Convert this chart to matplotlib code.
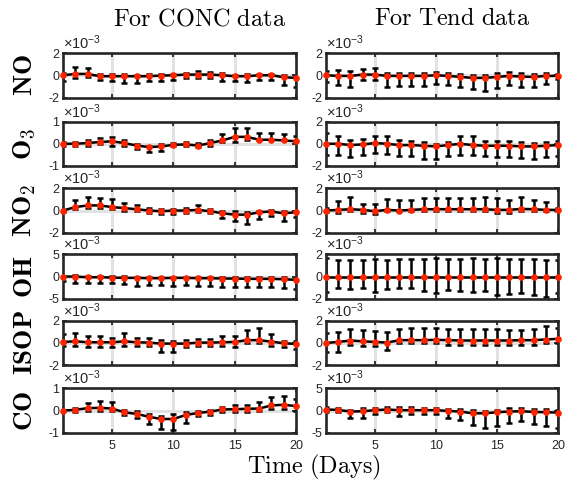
import numpy as np
import matplotlib
matplotlib.use("Agg")
import matplotlib.pyplot as plt

plt.rcParams['font.family'] = ['Liberation Sans', 'DejaVu Sans']
plt.rcParams['axes.unicode_minus'] = False
plt.rcParams['mathtext.fontset'] = 'custom'
plt.rcParams['mathtext.rm'] = 'Liberation Sans'
plt.rcParams['mathtext.it'] = 'Liberation Sans:italic'
plt.rcParams['mathtext.bf'] = 'Liberation Sans:bold'

days = np.arange(1, 21)

# all values below are in units of 1e-3
# ---- CONC ----
no_conc_mean = [0, 0.12, 0.12, -0.09, -0.09, -0.09, -0.09, -0.09, -0.03, 0, 0.06, 0.06, 0.06, 0, -0.09, -0.09, 0, 0, -0.18, -0.24]
no_conc_hi = [0.21, 0.73, 0.67, 0.12, 0.12, 0.12, 0.06, 0.12, 0.12, 0.12, 0.21, 0.36, 0.30, 0.21, 0.06, 0.12, 0.12, 0.12, 0, -0.09]
no_conc_lo = [-0.55, -0.24, -0.18, -0.39, -0.55, -0.70, -0.70, -0.55, -0.55, -0.39, -0.24, -0.24, -0.24, -0.48, -0.55, -0.61, -0.39, -0.39, -0.85, -1.09]

o3_conc_mean = [0, 0, 0.03, 0.08, 0.11, 0.03, -0.08, -0.15, -0.12, -0.05, -0.03, -0.08, 0.03, 0.15, 0.31, 0.31, 0.18, 0.18, 0.15, 0.11]
o3_conc_hi = [0.08, 0.08, 0.15, 0.28, 0.31, 0.15, 0, -0.08, -0.03, 0.03, 0.08, 0.03, 0.15, 0.46, 0.69, 0.69, 0.49, 0.49, 0.43, 0.34]
o3_conc_lo = [-0.08, -0.08, -0.08, -0.03, -0.08, -0.08, -0.23, -0.38, -0.34, -0.12, -0.12, -0.15, -0.08, 0.08, 0.08, 0.15, 0.15, 0.15, 0.15, 0.08]

no2_conc_mean = [0, 0.31, 0.46, 0.46, 0.31, 0.22, 0.12, 0, -0.06, 0, 0, 0.06, -0.06, -0.25, -0.37, -0.37, -0.15, -0.09, -0.25, -0.15]
no2_conc_hi = [0.06, 0.98, 1.23, 1.17, 1.08, 0.68, 0.46, 0.22, 0.15, 0.15, 0.22, 0.46, 0.15, -0.06, -0.06, -0.15, 0, 0.06, 0, 0]
no2_conc_lo = [-0.15, 0.15, 0.25, 0.25, 0.15, 0, 0, -0.22, -0.31, -0.31, -0.22, -0.15, -0.25, -0.68, -0.92, -1.17, -0.77, -0.46, -0.92, -0.62]

oh_conc_mean = [0, 0, -0.15, -0.15, -0.22, -0.3, -0.3, -0.37, -0.37, -0.3, -0.3, -0.37, -0.37, -0.45, -0.45, -0.52, -0.52, -0.52, -0.6, -0.75]
oh_conc_hi = [0.15, 0.37, 0.22, 0.22, 0.15, 0.15, 0, 0, 0, 0, 0, 0, 0, 0, 0, 0, 0, 0, -0.15, -0.37]
oh_conc_lo = [-0.9, -1.34, -1.49, -1.49, -1.34, -1.64, -2.09, -1.87, -1.87, -2.09, -1.87, -2.09, -2.09, -2.24, -2.39, -2.39, -2.39, -2.39, -2.61, -2.84]

isop_conc_mean = [0.09, 0.15, 0.06, 0.06, 0.06, 0.15, 0.06, 0.03, -0.06, -0.06, -0.06, 0.03, 0.03, 0.06, 0.09, 0.25, 0.25, 0.12, -0.03, -0.09]
isop_conc_hi = [0.77, 0.86, 0.62, 0.62, 0.46, 0.86, 0.46, 0.46, 0.25, 0.15, 0.25, 0.37, 0.37, 0.62, 0.62, 1.17, 1.38, 0.77, 0.15, 0.15]
isop_conc_lo = [-0.31, -0.25, -0.37, -0.37, -0.37, -0.25, -0.25, -0.25, -0.77, -0.77, -0.37, -0.25, -0.25, -0.31, -0.37, 0, 0, -0.25, -0.37, -0.55]

co_conc_mean = [0, 0.03, 0.11, 0.12, 0.09, -0.08, -0.15, -0.28, -0.38, -0.38, -0.2, -0.11, -0.05, 0.05, 0.06, 0.08, 0.09, 0.23, 0.26, 0.2]
co_conc_hi = [0.03, 0.12, 0.34, 0.43, 0.38, 0.03, 0, -0.15, -0.23, -0.15, -0.08, 0, 0.03, 0.15, 0.23, 0.23, 0.38, 0.62, 0.65, 0.54]
co_conc_lo = [-0.03, -0.08, 0, 0, 0, -0.18, -0.34, -0.62, -0.85, -0.89, -0.54, -0.23, -0.18, -0.08, -0.08, -0.08, 0, 0.08, 0.08, 0]

# ---- Tend ----
no_tend_mean = [0, -0.06, -0.06, 0.06, 0.06, -0.06, -0.06, -0.06, -0.06, 0, -0.06, -0.15, -0.24, -0.24, -0.15, -0.06, -0.12, -0.15, -0.06, -0.06]
no_tend_hi = [0.36, 0.45, 0.36, 0.55, 0.61, 0.24, 0.24, 0.24, 0.24, 0.3, 0.24, 0.15, 0.06, 0.06, 0.24, 0.3, 0.24, 0.15, 0.24, 0.15]
no_tend_lo = [-0.61, -0.85, -1.06, -0.45, -0.45, -1.06, -0.97, -0.97, -0.97, -0.76, -0.85, -1.06, -1.27, -1.45, -1.15, -0.85, -1.06, -1.06, -0.76, -0.3]

o3_tend_mean = [0, 0, -0.12, -0.06, 0.06, 0, -0.12, -0.12, -0.18, -0.24, -0.12, 0, -0.12, -0.18, -0.18, -0.18, -0.24, -0.24, -0.18, -0.12]
o3_tend_hi = [0.97, 0.73, 0.3, 0.42, 0.73, 0.73, 0.36, 0.21, 0.12, 0, 0.12, 0.67, 0.67, 0.21, 0.21, 0.21, 0.12, 0.06, 0.12, 0.21]
o3_tend_lo = [-1.0, -1.0, -1.21, -1.0, -0.85, -0.91, -1.09, -1.09, -1.39, -1.39, -1.09, -1.0, -1.0, -1.09, -1.15, -1.21, -1.3, -1.39, -1.15, -1.09]

no2_tend_mean = [0, 0.06, 0.12, 0.06, -0.06, 0.06, 0, 0.06, 0.12, 0.12, 0.12, 0.12, 0.12, 0.12, 0.06, 0.06, 0.15, 0.12, 0.06, 0.06]
no2_tend_hi = [0.25, 0.86, 1.23, 0.62, 0.62, 1.02, 0.92, 0.92, 1.17, 1.11, 1.11, 1.17, 1.17, 1.23, 1.17, 0.92, 1.23, 0.92, 0.8, 0.25]
no2_tend_lo = [-0.12, -0.22, -0.06, -0.22, -0.31, -0.06, -0.06, -0.06, -0.06, -0.06, -0.06, -0.06, -0.06, -0.06, -0.22, -0.22, -0.06, -0.06, -0.06, -0.06]

oh_tend_mean = [0] * 20
oh_tend_hi = [1.65, 1.45, 1.52, 1.52, 1.58, 1.52, 1.58, 1.58, 1.58, 1.65, 1.58, 1.58, 1.65, 1.58, 1.65, 1.58, 1.58, 1.58, 1.45, 1.52]
oh_tend_lo = [-1.36, -1.06, -1.15, -1.06, -1.36, -1.15, -1.06, -1.06, -1.27, -1.52, -1.21, -1.27, -1.36, -1.27, -1.67, -1.58, -1.52, -1.67, -1.82, -1.52]

isop_tend_mean = [0, 0.09, 0.22, 0.15, 0.09, 0.03, 0.25, 0.25, 0.25, 0.28, 0.25, 0.22, 0.22, 0.22, 0.22, 0.22, 0.25, 0.25, 0.31, 0.37]
isop_tend_hi = [0.92, 0.98, 1.29, 1.17, 1.08, 0.98, 1.29, 1.38, 1.38, 1.38, 1.29, 1.23, 1.23, 1.29, 1.29, 1.17, 1.17, 1.29, 1.54, 1.38]
isop_tend_lo = [-0.77, -0.77, -0.15, -0.31, -0.31, -0.62, 0, 0, 0, 0, -0.15, -0.15, -0.15, -0.15, -0.15, -0.15, -0.15, -0.15, 0, 0]

co_tend_mean = [0.23, 0.15, -0.23, -0.15, 0.08, 0.23, 0.08, 0.08, 0.08, 0.08, -0.08, -0.23, -0.62, -0.62, -0.38, -0.23, -0.15, -0.31, -0.38, -0.46]
co_tend_hi = [0.77, 0.62, 0.15, 0.62, 0.62, 0.77, 0.77, 0.77, 0.62, 0.62, 0.38, 0.38, 0.15, 0, 0.15, 0.62, 0.62, 0.38, 0.38, 0.15]
co_tend_lo = [-0.38, -0.38, -1.69, -1.69, -0.77, -0.38, -1.15, -0.77, -0.77, -0.77, -1.69, -2.15, -3.23, -4.0, -3.46, -2.69, -2.46, -2.92, -3.46, -3.85]

species = [r'NO', r'O_3', r'NO_2', r'OH', r'ISOP', r'CO']
col_titles = ['For CONC data', 'For Tend data']

conc = [(no_conc_mean, no_conc_lo, no_conc_hi, 2),
        (o3_conc_mean, o3_conc_lo, o3_conc_hi, 1),
        (no2_conc_mean, no2_conc_lo, no2_conc_hi, 2),
        (oh_conc_mean, oh_conc_lo, oh_conc_hi, 5),
        (isop_conc_mean, isop_conc_lo, isop_conc_hi, 2),
        (co_conc_mean, co_conc_lo, co_conc_hi, 1)]
tend = [(no_tend_mean, no_tend_lo, no_tend_hi, 2),
        (o3_tend_mean, o3_tend_lo, o3_tend_hi, 2),
        (no2_tend_mean, no2_tend_lo, no2_tend_hi, 2),
        (oh_tend_mean, oh_tend_lo, oh_tend_hi, 2),
        (isop_tend_mean, isop_tend_lo, isop_tend_hi, 2),
        (co_tend_mean, co_tend_lo, co_tend_hi, 5)]

W, H = 570, 482
fig = plt.figure(figsize=(W / 100, H / 100), dpi=100)

col_left = [63, 326]
col_width = [233, 232]
row_top = [53, 121.5, 188.3, 254.3, 320.7, 388.3]
row_h = 44.5

edge = '#262626'
for c, panels in enumerate([conc, tend]):
    for r, (mean, lo, hi, lim) in enumerate(panels):
        mean = np.array(mean)
        lo = np.array(lo)
        hi = np.array(hi)
        ax = fig.add_axes([col_left[c] / W, 1 - (row_top[r] + row_h) / H,
                           col_width[c] / W, row_h / H])
        for xv in (5, 10, 15):
            ax.axvline(xv, color='#e2e2e2', lw=2.2, zorder=0)
        ax.axhline(0, color='#e2e2e2', lw=2.2, zorder=0)
        ax.errorbar(days, mean, yerr=[mean - lo, hi - mean], color='k',
                    lw=1.8, elinewidth=1.8, capsize=2.2, capthick=1.8, zorder=2)
        ax.plot(days, mean, 'o', color='#ff2400', ms=4.8, mec='none',
                clip_on=False, zorder=5)
        ax.set_xlim(1, 20)
        ax.set_ylim(-lim, lim)
        ax.set_yticks([-lim, 0, lim])
        ax.set_xticks([5, 10, 15, 20])
        ax.tick_params(direction='in', length=3, width=1.3, color=edge,
                       top=True, right=True, labelsize=9, pad=2.5,
                       labelcolor='#262626')
        if r < 5:
            ax.set_xticklabels([])
        else:
            ax.tick_params(axis='x', pad=5)
        for s in ax.spines.values():
            s.set_linewidth(1.9)
            s.set_color(edge)
        ax.text(0, 1.02, r'$\times10^{-3}$', transform=ax.transAxes,
                fontsize=10.5, color='#262626', ha='left', va='bottom')
        if c == 0:
            fig.text(25 / W, 1 - (row_top[r] + row_h / 2) / H,
                     r'$\mathbf{' + species[r] + '}$', rotation=90,
                     ha='center', va='center', fontsize=19.5, math_fontfamily='cm')

fig.text(200 / W, 1 - 19 / H, r'$\mathrm{For\ CONC\ data}$', ha='center',
         va='center', fontsize=17.5, math_fontfamily='cm')
fig.text(452 / W, 1 - 19 / H, r'$\mathrm{For\ Tend\ data}$', ha='center',
         va='center', fontsize=17.5, math_fontfamily='cm')
fig.text(314 / W, 1 - 467 / H, r'$\mathrm{Time\ (Days)}$', ha='center',
         va='center', fontsize=17.5, math_fontfamily='cm')

fig.savefig('out.png', dpi=100)
